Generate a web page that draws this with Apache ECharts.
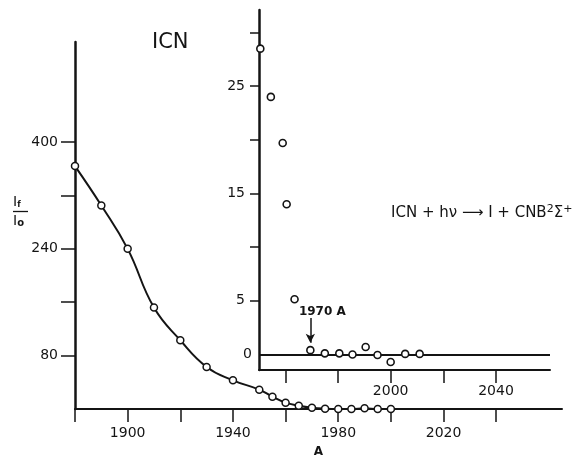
<!DOCTYPE html>
<html><head><meta charset="utf-8">
<script src="https://cdn.jsdelivr.net/npm/echarts@6/dist/echarts.min.js"></script>
<style>html,body{margin:0;padding:0;background:#fff}#c{width:579px;height:457px}</style>
</head><body><div id="c"></div>
<script>
// Main curve (large plot)
const mainX = [1880,1890,1900,1910,1920,1930,1940,1950,1955,1960,1965,1970,1975,1980,1985,1990,1995,2000];
const mainY = [364,305,240,152,103,63,43,29,18.5,9.5,5,2,0.5,0,0,1,0,0];
// Inset points
const insetX = [1950.5,1954.5,1959,1960.5,1963.5,1969.5,1975,1980.5,1985.5,1990.5,1995,2000,2005.5,2011];
const insetY = [28.5,24,19.7,14,5.15,0.4,0.1,0.1,0,0.7,-0.05,-0.7,0.05,0.05];
// Ticks / labels
const mainXTicks = [1880,1900,1920,1940,1960,1980,2000,2020,2040];
const mainXLabels = [1900,1940,1980,2020];
const mainYTicks = [80,160,240,320,400];
const mainYLabels = [80,240,400];
const insetXTicks = [1960,1980,2000,2020,2040];
const insetXLabels = [2000,2040];
const insetYTicks = [5,10,15,20,25,30];
const insetYLabels = [0,5,15,25];

const INK = '#141414';
const FONT = 'DejaVu Sans';
const mainPts = mainX.map((x,i)=>[x,mainY[i]]);
const insetPts = insetX.map((x,i)=>[x,insetY[i]]);
const fmt = v => String(v);

const chart = echarts.init(document.getElementById('c'), null, {renderer:'canvas'});
chart.setOption({
  animation:false,
  backgroundColor:'#fff',
  title:{text:'ICN', left:147, top:27, textStyle:{fontFamily:FONT, fontSize:21, fontWeight:'normal', color:INK}},
  grid:[
    {left:75, right:17, top:42, bottom:48, containLabel:false, outerBoundsMode:'none'},
    {left:259, right:29, top:10, bottom:87, containLabel:false, outerBoundsMode:'none'}
  ],
  xAxis:[
    {gridIndex:0, type:'value', min:1880, max:2065,
     axisLine:{onZero:false, lineStyle:{color:INK, width:2}},
     axisTick:{show:true, customValues:mainXTicks, length:13, lineStyle:{color:INK, width:1.5}},
     axisLabel:{customValues:mainXLabels, formatter:fmt, margin:17, fontSize:14, fontFamily:FONT, color:INK},
     splitLine:{show:false},
     name:'A', nameLocation:'middle', nameGap:37,
     nameTextStyle:{fontFamily:FONT, fontSize:12, fontWeight:'bold', color:INK}},
    {gridIndex:1, type:'value', min:1950, max:2060.5,
     axisLine:{onZero:false, lineStyle:{color:INK, width:2}},
     axisTick:{show:true, customValues:insetXTicks, length:13, lineStyle:{color:INK, width:1.5}},
     axisLabel:{customValues:insetXLabels, formatter:fmt, margin:14, fontSize:14, fontFamily:FONT, color:INK},
     splitLine:{show:false}}
  ],
  yAxis:[
    {gridIndex:0, type:'value', min:0, max:550,
     axisLine:{show:true, onZero:false, lineStyle:{color:INK, width:2.5}},
     axisTick:{show:true, customValues:mainYTicks, length:14, lineStyle:{color:INK, width:1.5}},
     axisLabel:{customValues:mainYLabels, formatter:fmt, margin:17, fontSize:14, fontFamily:FONT, color:INK},
     splitLine:{show:false}},
    {gridIndex:1, type:'value', min:-1.45, max:32.1,
     axisLine:{show:true, onZero:false, lineStyle:{color:INK, width:2.5}},
     axisTick:{show:true, customValues:insetYTicks, length:9, lineStyle:{color:INK, width:1.5}},
     axisLabel:{customValues:insetYLabels, margin:14, fontSize:14, fontFamily:FONT, color:INK,
       formatter: v => v === 0 ? '{z|0}' : String(v),
       rich:{z:{fontFamily:FONT, fontSize:14, color:INK, padding:[0,-7,0,0]}}},
     splitLine:{show:false}}
  ],
  series:[
    {type:'line', xAxisIndex:0, yAxisIndex:0, data:mainPts, smooth:0.45,
     symbol:'circle', symbolSize:7, showAllSymbol:true,
     lineStyle:{color:INK, width:2},
     itemStyle:{color:'#fff', borderColor:INK, borderWidth:1.5}, z:3},
    {type:'scatter', xAxisIndex:1, yAxisIndex:1, data:insetPts,
     symbol:'circle', symbolSize:7,
     itemStyle:{color:'#fff', borderColor:INK, borderWidth:1.6, opacity:1}, z:3,
     markLine:{silent:true, z:1, symbol:'none', animation:false,
       data:[
         {yAxis:0, symbol:'none', lineStyle:{color:INK, width:2, type:'solid'}, label:{show:false}},
         [{coord:[1969.5,3.4], symbol:'none',
           lineStyle:{color:INK, width:1.5, type:'solid'},
           label:{show:true, formatter:'1970 A', position:'start', distance:0, offset:[12,0],
                  fontFamily:FONT, fontSize:12, fontWeight:'bold', color:INK}},
          {coord:[1969.5,1.1], symbol:'arrow', symbolSize:[7,9]}]
       ]}}
  ],
  graphic:[
    {type:'text', left:13, top:195, style:{text:'{a|I}{b|f}', rich:{a:{fontFamily:FONT, fontSize:14, fill:INK}, b:{fontFamily:FONT, fontSize:8, fontWeight:'bold', fill:INK, padding:[6,0,0,0]}}}},
    {type:'line', shape:{x1:13, y1:211.5, x2:28, y2:211.5}, style:{stroke:INK, lineWidth:1.3}},
    {type:'text', left:13, top:214, style:{text:'{a|I}{b|o}', rich:{a:{fontFamily:FONT, fontSize:14, fill:INK}, b:{fontFamily:FONT, fontSize:10, fontWeight:'bold', fill:INK, padding:[5,0,0,0]}}}},
    {type:'text', left:391, top:204, style:{
       text:'{m|ICN + hν ⟶ I + CNB}{s|2}{m|Σ}{s|+}',
       rich:{m:{fontFamily:FONT, fontSize:15, fill:INK}, s:{fontFamily:FONT, fontSize:11, fill:INK, padding:[0,0,8,0]}}}}
  ]
});
</script></body></html>
